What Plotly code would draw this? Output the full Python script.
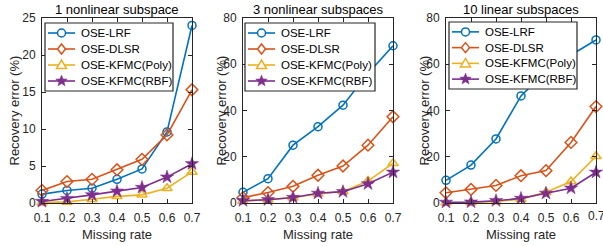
import math
import plotly.graph_objects as go

missing_rate = [0.1, 0.2, 0.3, 0.4, 0.5, 0.6, 0.7]
x_ticks = [0.1, 0.2, 0.3, 0.4, 0.5, 0.6, 0.7]
x_tick_labels = ["0.1", "0.2", "0.3", "0.4", "0.5", "0.6", "0.7"]

method_names = ["OSE-LRF", "OSE-DLSR", "OSE-KFMC(Poly)", "OSE-KFMC(RBF)"]

panel_titles = ["1 nonlinear subspace", "3 nonlinear subspaces", "10 linear subspaces"]

# Panel 1: 1 nonlinear subspace
p1_lrf = [1.2, 1.7, 2.0, 3.2, 4.6, 9.6, 24.0]
p1_dlsr = [1.7, 2.9, 3.2, 4.5, 5.9, 9.2, 15.3]
p1_poly = [0.05, 0.15, 0.5, 0.9, 1.1, 2.0, 4.2]
p1_rbf = [0.2, 0.6, 1.1, 1.6, 2.1, 3.5, 5.3]

# Panel 2: 3 nonlinear subspaces
p2_lrf = [4.6, 10.5, 25.0, 33.0, 42.3, 56.0, 68.0]
p2_dlsr = [2.3, 4.5, 7.2, 12.0, 16.0, 25.0, 37.3]
p2_poly = [0.8, 1.4, 2.3, 4.0, 5.0, 9.5, 17.2]
p2_rbf = [1.0, 1.4, 2.4, 4.2, 4.9, 8.3, 13.3]

# Panel 3: 10 linear subspaces
p3_lrf = [9.8, 16.4, 27.7, 46.3, 57.0, 64.0, 70.5]
p3_dlsr = [4.4, 5.9, 7.6, 11.8, 14.0, 26.2, 41.7]
p3_poly = [0.1, 0.2, 0.7, 1.6, 4.7, 9.3, 20.2]
p3_rbf = [0.3, 0.4, 1.0, 2.0, 4.2, 6.4, 13.3]

y_ticks_1 = [0, 5, 10, 15, 20, 25]
y_ticks_23 = [0, 20, 40, 60, 80]

panels = [
    [p1_lrf, p1_dlsr, p1_poly, p1_rbf],
    [p2_lrf, p2_dlsr, p2_poly, p2_rbf],
    [p3_lrf, p3_dlsr, p3_poly, p3_rbf],
]
y_ranges = [[0, 25], [0, 80], [0, 80]]
y_tick_sets = [y_ticks_1, y_ticks_23, y_ticks_23]

colors = ["#0072BD", "#D95319", "#EDB120", "#7E2F8E"]
symbols = ["circle-open", "diamond-open", "triangle-up-open", "star"]
msizes = [8, 9, 9, 10]
mlw = [1.5, 1.5, 1.5, 0.5]

W, H = 603, 246
x_doms = [(42, 192), (243, 393), (446, 596)]
y_top, y_bot = 18, 203
# legend boxes (left, top, right, bottom) in pixels
legend_boxes = [(45, 23, 173, 91), (245, 23, 375, 91), (449, 22, 577, 89)]
ytitle_x = [14, 221, 424]

txt = "#262626"
font_family = "Liberation Sans, Arial, sans-serif"


def px(xp):
    return xp / W


def py(yp):
    return 1 - yp / H


def star_path(R=6.0, r=2.6):
    pts = []
    for i in range(10):
        rad = R if i % 2 == 0 else r
        a = math.pi / 2 + i * math.pi / 5
        pts.append((rad * math.cos(a), rad * math.sin(a)))
    return "M" + " L".join(f"{x:.2f},{y:.2f}" for x, y in pts) + " Z"


glyph_paths = [
    None,  # circle handled by circle shape
    "M0,5 L4,0 L0,-5 L-4,0 Z",
    "M-5,-3.5 L5,-3.5 L0,5 Z",
    star_path(),
]

fig = go.Figure()
for p, series in enumerate(panels):
    xa = "x" if p == 0 else f"x{p+1}"
    ya = "y" if p == 0 else f"y{p+1}"
    for k, vals in enumerate(series):
        fig.add_trace(go.Scatter(
            x=missing_rate, y=vals, name=method_names[k],
            xaxis=xa, yaxis=ya, showlegend=False,
            mode="lines+markers",
            line=dict(color=colors[k], width=1.6),
            marker=dict(symbol=symbols[k], size=msizes[k], color=colors[k],
                        line=dict(color=colors[k], width=mlw[k])),
            cliponaxis=False,
        ))

shapes = []
annotations = []
layout = dict(
    width=W, height=H,
    margin=dict(l=0, r=0, t=0, b=0, pad=0, autoexpand=False),
    paper_bgcolor="white", plot_bgcolor="white",
    font=dict(family=font_family, size=12, color=txt),
    showlegend=False,
)
for p in range(3):
    sx = "" if p == 0 else str(p + 1)
    x0, x1 = x_doms[p]
    tick_text = list(x_tick_labels)
    if p == 2:
        tick_text[-1] = ""  # drawn as annotation so it is not auto-hidden at page edge
        annotations.append(dict(
            text=x_tick_labels[-1], xref="x3", yref="paper",
            x=x_ticks[-1], y=py(216), xanchor="center", yanchor="middle",
            showarrow=False, font=dict(size=12, color=txt),
        ))
    layout[f"xaxis{sx}"] = dict(
        domain=[px(x0), px(x1)], range=[0.1, 0.7],
        tickvals=x_ticks, ticktext=tick_text,
        ticks="inside", ticklen=4, tickcolor=txt,
        showline=True, linecolor=txt, linewidth=1, mirror="ticks",
        showgrid=False, zeroline=False, automargin=False,
        anchor="y" if p == 0 else f"y{p+1}",
        tickfont=dict(size=12, color=txt),
        ticklabelstandoff=4,
    )
    layout[f"yaxis{sx}"] = dict(
        domain=[py(y_bot), py(y_top)], range=y_ranges[p],
        tickvals=y_tick_sets[p],
        ticks="inside", ticklen=4, tickcolor=txt,
        showline=True, linecolor=txt, linewidth=1, mirror="ticks",
        showgrid=False, zeroline=False, automargin=False,
        anchor="x" if p == 0 else f"x{p+1}",
        tickfont=dict(size=12, color=txt),
        ticklabelstandoff=3,
    )

    # custom compact legend box
    lx0, ly0, lx1, ly1 = legend_boxes[p]
    shapes.append(dict(
        type="rect", xref="paper", yref="paper",
        x0=px(lx0), x1=px(lx1), y0=py(ly1), y1=py(ly0),
        line=dict(color="#262626", width=1.2), fillcolor="white", layer="above",
    ))
    row_h = (ly1 - ly0 - 4) / 4
    for k in range(4):
        cy = ly0 + 2 + row_h * (k + 0.5)
        shapes.append(dict(
            type="line", xref="paper", yref="paper",
            x0=px(lx0 + 3), x1=px(lx0 + 30), y0=py(cy), y1=py(cy),
            line=dict(color=colors[k], width=1.6), layer="above",
        ))
        mx = lx0 + 16.5
        if k == 0:
            shapes.append(dict(
                type="circle", xref="paper", yref="paper",
                xsizemode="pixel", ysizemode="pixel",
                xanchor=px(mx), yanchor=py(cy),
                x0=-4, x1=4, y0=-4, y1=4,
                line=dict(color=colors[k], width=1.5), fillcolor="white", layer="above",
            ))
        else:
            filled = symbols[k] == "star"
            shapes.append(dict(
                type="path", xref="paper", yref="paper",
                xsizemode="pixel", ysizemode="pixel",
                xanchor=px(mx), yanchor=py(cy),
                path=glyph_paths[k],
                line=dict(color=colors[k], width=1.5 if not filled else 0.5),
                fillcolor=colors[k] if filled else "white", layer="above",
            ))
        annotations.append(dict(
            text=method_names[k], xref="paper", yref="paper",
            x=px(lx0 + 34), y=py(cy), xanchor="left", yanchor="middle",
            showarrow=False, font=dict(size=11.5, color="#000000"),
        ))

    annotations.append(dict(
        text=panel_titles[p], xref="paper", yref="paper",
        x=px((x0 + x1) / 2), y=py(9), xanchor="center", yanchor="middle",
        showarrow=False, font=dict(size=13, color="#000000"),
    ))
    annotations.append(dict(
        text="Recovery error (%)", xref="paper", yref="paper",
        x=px(ytitle_x[p]), y=py((y_top + y_bot) / 2),
        xanchor="center", yanchor="middle", textangle=-90,
        showarrow=False, font=dict(size=13, color=txt),
    ))
    annotations.append(dict(
        text="Missing rate", xref="paper", yref="paper",
        x=px((x0 + x1) / 2), y=py(234),
        xanchor="center", yanchor="middle",
        showarrow=False, font=dict(size=13, color=txt),
    ))

layout["shapes"] = shapes
layout["annotations"] = annotations
fig.update_layout(**layout)
fig.write_html(
    "out.html",
    config={"displayModeBar": False},
    post_script="document.body.style.margin='0';document.body.style.overflow='hidden';",
)
